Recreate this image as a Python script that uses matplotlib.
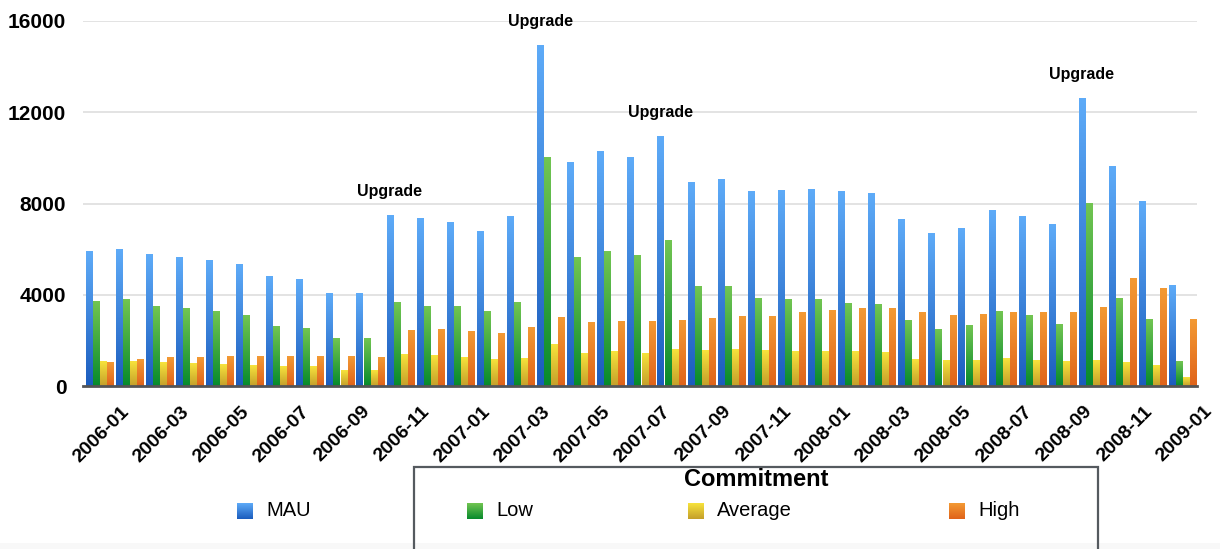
import numpy as np
import matplotlib
matplotlib.use("Agg")
import matplotlib.pyplot as plt
from matplotlib.colors import LinearSegmentedColormap
from matplotlib.patches import Rectangle
from matplotlib.transforms import ScaledTranslation

plt.rcParams["font.family"] = ["Liberation Sans", "DejaVu Sans"]

# Monthly figures, 2006-01 .. 2009-01
mau = [5900, 6000, 5780, 5620, 5490, 5310, 4800, 4670, 4060, 4060,
       7490, 7360, 7150, 6770, 7450, 14920, 9810, 10280, 10020, 10920,
       8910, 9040, 8530, 8570, 8610, 8530, 8440, 7290, 6690, 6910,
       7710, 7420, 7070, 12600, 9640, 8090, 4410]
low = [3720, 3770, 3480, 3390, 3260, 3080, 2610, 2530, 2090, 2090,
       3680, 3480, 3480, 3260, 3640, 10020, 5620, 5910, 5740, 6380,
       4370, 4370, 3850, 3810, 3770, 3610, 3560, 2880, 2480, 2660,
       3260, 3080, 2700, 8020, 3850, 2920, 1080]
average = [1080, 1080, 1040, 990, 950, 900, 860, 860, 700, 700,
           1370, 1330, 1240, 1150, 1200, 1840, 1420, 1500, 1420, 1620,
           1550, 1620, 1550, 1500, 1500, 1500, 1460, 1150, 1120, 1120,
           1200, 1120, 1080, 1120, 1040, 900, 390]
high = [1040, 1150, 1240, 1240, 1280, 1280, 1280, 1280, 1280, 1240,
        2440, 2480, 2390, 2310, 2570, 2990, 2790, 2830, 2830, 2880,
        2960, 3040, 3040, 3210, 3300, 3390, 3390, 3210, 3080, 3120,
        3210, 3210, 3210, 3430, 4720, 4280, 2920]

tick_labels = ["2006-01", "2006-03", "2006-05", "2006-07", "2006-09", "2006-11",
               "2007-01", "2007-03", "2007-05", "2007-07", "2007-09", "2007-11",
               "2008-01", "2008-03", "2008-05", "2008-07", "2008-09", "2008-11",
               "2009-01"]
upgrade_months = [10, 15, 19, 33]
upgrade_text = "Upgrade"

series_names = ["MAU", "Low", "Average", "High"]
series_values = [mau, low, average, high]
# (top colour, bottom colour) of each gradient fill
series_grad = [("#5eabf8", "#1b5cbd"),
               ("#72c552", "#078a2c"),
               ("#f7e33c", "#c49f2a"),
               ("#f39a34", "#e0631a")]
yticks = [0, 4000, 8000, 12000, 16000]

W, H, DPI = 1220, 549, 100
fig = plt.figure(figsize=(W / DPI, H / DPI), dpi=DPI)
fig.patch.set_facecolor("white")

# faint band along the bottom edge
fig.patches.append(Rectangle((0, 0), 1, 6 / H, transform=fig.transFigure,
                             facecolor="#f8f8f8", edgecolor="none", zorder=0))

ax_l, ax_r, ax_b, ax_t = 83, 1197, 386, 21
ax = fig.add_axes([ax_l / W, 1 - ax_b / H, (ax_r - ax_l) / W, (ax_b - ax_t) / H])
ax.patch.set_alpha(0)

n = len(mau)
x = np.arange(n)
step = 0.235
bw = 0.205
offsets = [-1.5 * step, -0.5 * step, 0.5 * step, 1.5 * step]

grad = np.linspace(0, 1, 128).reshape(-1, 1)
containers = []
for vals, off, (top, bot) in zip(series_values, offsets, series_grad):
    cont = ax.bar(x + off, vals, width=bw, facecolor="none",
                  edgecolor="none", linewidth=0, zorder=3)
    containers.append(cont)
    cmap = LinearSegmentedColormap.from_list("g", [bot, top])
    for r in cont:
        x0, w, h = r.get_x(), r.get_width(), r.get_height()
        ax.imshow(grad, extent=(x0, x0 + w, 0, h), origin="lower", cmap=cmap,
                  aspect="auto", interpolation="bilinear", zorder=2)

ax.set_xlim(-0.54, n - 0.53)
ax.set_ylim(0, 16000)
ax.set_yticks(yticks)
ax.set_yticklabels([str(v) for v in yticks], fontsize=15, fontweight="bold")
ax.tick_params(axis="y", length=0, pad=12)
ax.set_xticks([])
for yv in yticks[1:]:
    ax.axhline(yv, color="#e3e3e3", linewidth=1.4, zorder=1)
for s in ["top", "right", "left"]:
    ax.spines[s].set_visible(False)
ax.spines["bottom"].set_color("#555555")
ax.spines["bottom"].set_linewidth(2)
ax.spines["bottom"].set_zorder(4)

# rotated month labels every second month
shift = ScaledTranslation(21 / DPI, -17 / DPI, fig.dpi_scale_trans)
for i, lab in enumerate(tick_labels):
    ax.text(2 * i, 0, lab, rotation=45, rotation_mode="anchor",
            ha="right", va="top", fontsize=14, fontweight="bold",
            transform=ax.transData + shift, clip_on=False)

# upgrade markers above the MAU bars
mau_bars = containers[0]
for i in upgrade_months:
    r = mau_bars[i]
    ax.annotate(upgrade_text, (r.get_x() + r.get_width() / 2, r.get_height()),
                xytext=(0, 24), textcoords="offset pixels", ha="center",
                va="center", fontsize=11.5, fontweight="bold", annotation_clip=False)

# legend
fig.patches.append(Rectangle((414 / W, 1 - 620 / H), (1098 - 414) / W, (620 - 467) / H,
                             transform=fig.transFigure, facecolor="none",
                             edgecolor="#555a5f", linewidth=1.6, clip_on=False))
fig.text(756 / W, 1 - 480 / H, "Commitment", ha="center", va="center",
         fontsize=17, fontweight="bold")
sq_x = [237, 467, 688, 949]
for name, (top, bot), sx in zip(series_names, series_grad, sq_x):
    sa = fig.add_axes([sx / W, 1 - 519 / H, 16 / W, 16 / H])
    sa.imshow(grad, origin="lower", aspect="auto",
              cmap=LinearSegmentedColormap.from_list("g", [bot, top]))
    sa.axis("off")
    fig.text((sx + 29) / W, 1 - 511 / H, name, ha="left", va="center", fontsize=14.5)

fig.savefig("out.png", dpi=DPI, facecolor="white")
